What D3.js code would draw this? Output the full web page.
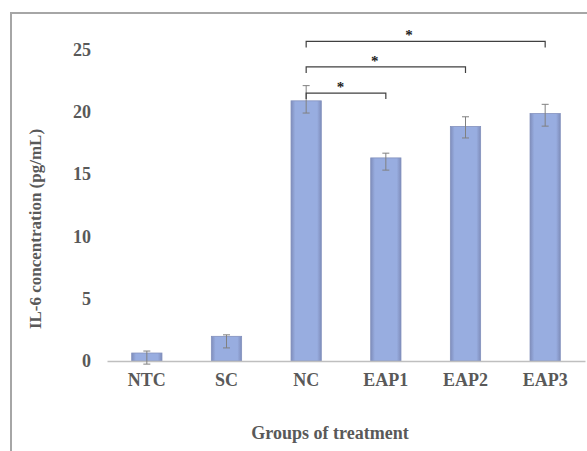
<!DOCTYPE html>
<html lang="en">
<head>
<meta charset="UTF-8">
<title>IL-6 concentration</title>
<script src="https://cdn.jsdelivr.net/npm/d3@7/dist/d3.min.js"></script>
<style>
  body { margin: 0; padding: 0; background: #fff; overflow: hidden; }
  text { font-family: "Liberation Serif", "Times New Roman", serif; font-weight: bold; }
</style>
</head>
<body>
<div id="chart"></div>
<script>
  // groups and IL-6 values (pg/mL)
  const groups = ["NTC", "SC", "NC", "EAP1", "EAP2", "EAP3"];
  const means = [0.64, 1.98, 20.88, 16.3, 18.82, 19.86];
  const errTop = [0.8, 2.1, 22.1, 16.68, 19.6, 20.6];
  const errBottom = [-0.25, 1.05, 19.9, 15.32, 17.9, 18.85];
  const yTicks = [0, 5, 10, 15, 20, 25];

  // significance brackets: NC vs EAP1/EAP2/EAP3
  const pairs = [["NC", "EAP1"], ["NC", "EAP2"], ["NC", "EAP3"]];
  const pairLevels = [21.5, 23.6, 25.65];
  const pairMarks = ["*", "*", "*"];

  const width = 587, height = 451;

  const svg = d3.select("#chart")
    .append("svg")
    .attr("width", width)
    .attr("height", height);

  const defs = svg.append("defs");
  const grad = defs.append("linearGradient")
    .attr("id", "barFill")
    .attr("x1", "0%").attr("x2", "100%")
    .attr("y1", "0%").attr("y2", "0%");
  grad.append("stop").attr("offset", "0%").attr("stop-color", "#7f8dbb");
  grad.append("stop").attr("offset", "14%").attr("stop-color", "#98ade0");
  grad.append("stop").attr("offset", "86%").attr("stop-color", "#98ade0");
  grad.append("stop").attr("offset", "100%").attr("stop-color", "#7f8dbb");

  // outer frame (runs off the right and bottom edges)
  svg.append("path")
    .attr("d", `M11,${height + 5}V13H${width + 5}`)
    .attr("fill", "none")
    .attr("stroke", "#a6a6a6")
    .attr("stroke-width", 2);

  const x = d3.scaleBand()
    .domain(groups)
    .range([107, 585])
    .paddingInner(0.62)
    .paddingOuter(0.31);

  const y = d3.scaleLinear()
    .domain([0, 25])
    .range([361, 49.5]);

  // y tick labels
  const yAxis = svg.append("g")
    .attr("transform", "translate(91,0)")
    .call(d3.axisLeft(y).tickValues(yTicks).tickSize(0).tickPadding(0));
  yAxis.select(".domain").remove();
  yAxis.selectAll("text")
    .attr("fill", "#595959")
    .style("font-size", "18px")
    .style("font-family", "'Liberation Serif', serif")
    .style("font-weight", "bold");

  // bars
  svg.append("g")
    .selectAll("rect")
    .data(groups)
    .join("rect")
    .attr("x", d => x(d))
    .attr("width", x.bandwidth())
    .attr("y", (d, i) => y(means[i]))
    .attr("height", (d, i) => y(0) - y(means[i]))
    .attr("fill", "url(#barFill)")
    .attr("stroke", "#8391bd")
    .attr("stroke-width", 0.8);

  // x axis baseline and category labels
  const xAxis = svg.append("g")
    .attr("transform", `translate(0,${y(0)})`)
    .call(d3.axisBottom(x).tickSize(0).tickPadding(12));
  xAxis.select(".domain")
    .attr("stroke", "#bfbfbf")
    .attr("stroke-width", 1.5);
  xAxis.selectAll("text")
    .attr("fill", "#595959")
    .style("font-size", "18px")
    .style("font-family", "'Liberation Serif', serif")
    .style("font-weight", "bold");

  // error bars
  const err = svg.append("g")
    .attr("stroke", "#808080")
    .attr("stroke-width", 1);
  groups.forEach((g, i) => {
    const cx = x(g) + x.bandwidth() / 2;
    err.append("line")
      .attr("x1", cx).attr("x2", cx)
      .attr("y1", y(errTop[i])).attr("y2", y(errBottom[i]));
    [errTop[i], errBottom[i]].forEach(v => {
      err.append("line")
        .attr("x1", cx - 3.5).attr("x2", cx + 3.5)
        .attr("y1", y(v)).attr("y2", y(v));
    });
  });

  // significance brackets
  const br = svg.append("g");
  pairs.forEach((p, i) => {
    const x0 = x(p[0]) + x.bandwidth() / 2;
    const x1 = x(p[1]) + x.bandwidth() / 2;
    const yy = y(pairLevels[i]);
    br.append("path")
      .attr("d", `M${x0},${yy + 6}V${yy}H${x1}V${yy + 6}`)
      .attr("fill", "none")
      .attr("stroke", "#404040")
      .attr("stroke-width", 1.2);
    br.append("text")
      .attr("x", x0 + (x1 - x0) * 0.43)
      .attr("y", yy - 1)
      .attr("text-anchor", "middle")
      .attr("fill", "#222")
      .style("font-size", "15px")
      .text(pairMarks[i]);
  });

  // axis titles
  svg.append("text")
    .attr("x", 330)
    .attr("y", 439)
    .attr("text-anchor", "middle")
    .attr("fill", "#595959")
    .style("font-size", "18px")
    .text("Groups of treatment");

  svg.append("text")
    .attr("transform", "translate(41,229) rotate(-90)")
    .attr("text-anchor", "middle")
    .attr("fill", "#595959")
    .style("font-size", "17px")
    .text("IL-6 concentration (pg/mL)");
</script>
</body>
</html>
